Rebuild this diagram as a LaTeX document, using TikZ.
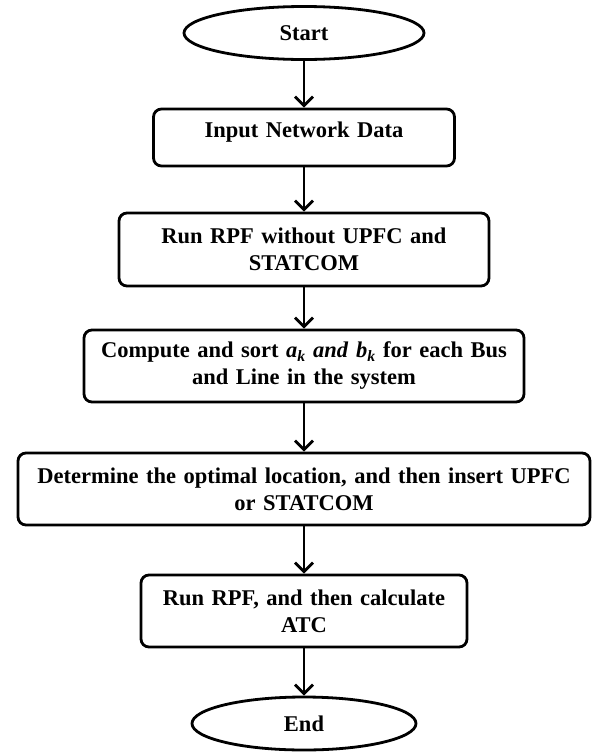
\documentclass[tikz,border=0pt]{standalone}
\usepackage{fontspec}
\setmainfont{Liberation Serif}
\usetikzlibrary{arrows.meta,shapes.geometric}

\begin{document}
\begin{tikzpicture}[x=1pt,y=-1pt,font=\fontsize{22.5}{27}\selectfont\bfseries,
  proc/.style={draw,line width=2.8pt,rounded corners=8pt,align=center,inner xsep=8pt,inner ysep=0pt},
  term/.style={draw,ellipse,line width=2.8pt,inner sep=0pt},
  flow/.style={line width=2.8pt,-{Straight Barb[length=9pt,width=18pt,line width=2.8pt]}}]
\useasboundingbox (0,0) rectangle (592,753);
\node[term,minimum width=240pt,minimum height=53pt] (start) at (304,33) {Start};
\node[proc,text width=285pt,text depth=15pt,minimum height=57pt] (input) at (304,137.5) {Input Network Data};
\node[proc,text width=354pt,minimum height=73pt] (rpf) at (304,249.5) {Run RPF without UPFC and\\STATCOM};
\node[proc,text width=424pt,minimum height=72pt] (sort) at (304,366)
  {Compute and sort \textit{a}\textsubscript{\textit{k}} \textit{and} \textit{b}\textsubscript{\textit{k}} for each Bus\\and Line in the system};
\node[proc,text width=556pt,minimum height=72pt] (place) at (304,489)
  {Determine the optimal location, and then insert UPFC\\or STATCOM};
\node[proc,text width=310pt,minimum height=72pt] (atc) at (304,611) {Run RPF, and then calculate\\ATC};
\node[term,minimum width=224pt,minimum height=53pt] (end) at (304,723.5) {End};
% arrows
\foreach \a/\b in {start/input,input/rpf,rpf/sort,sort/place,place/atc,atc/end}
  \draw[flow] (\a) -- (\b);
\end{tikzpicture}
\end{document}
